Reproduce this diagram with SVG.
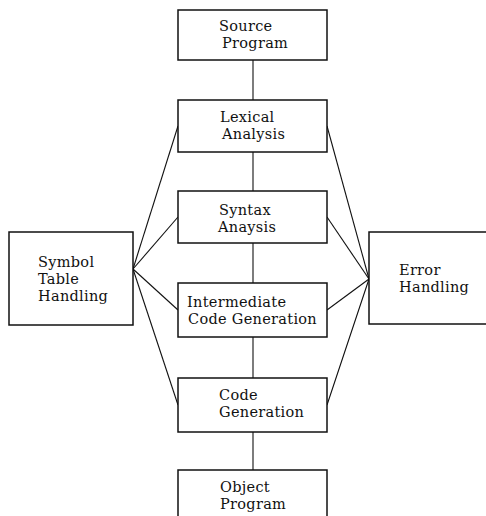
<svg xmlns="http://www.w3.org/2000/svg" width="486" height="516" viewBox="0 0 486 516">
  <style>
    .box { fill: #ffffff; stroke: #111111; stroke-width: 1.5; }
    .wire { fill: none; stroke: #111111; stroke-width: 1.1; }
    .label { font-family: "DejaVu Serif", "Liberation Serif", serif; font-size: 14.5px; letter-spacing: 0.3px; fill: #111111; }
  </style>
  <rect width="486" height="516" fill="#ffffff"/>

  <!-- connectors -->
  <g id="connectors">
    <!-- main pipeline -->
    <line class="wire" x1="253" y1="60" x2="253" y2="100"/>
    <line class="wire" x1="253" y1="152" x2="253" y2="191"/>
    <line class="wire" x1="253" y1="243" x2="253" y2="283"/>
    <line class="wire" x1="253" y1="337" x2="253" y2="378"/>
    <line class="wire" x1="253" y1="432" x2="253" y2="470"/>
    <!-- symbol table fan -->
    <line class="wire" x1="133" y1="269" x2="178" y2="126"/>
    <line class="wire" x1="133" y1="269" x2="178" y2="217"/>
    <line class="wire" x1="133" y1="269" x2="178" y2="310"/>
    <line class="wire" x1="133" y1="269" x2="178" y2="405"/>
    <!-- error handling fan -->
    <line class="wire" x1="369" y1="279" x2="327" y2="126"/>
    <line class="wire" x1="369" y1="279" x2="327" y2="217"/>
    <line class="wire" x1="369" y1="279" x2="327" y2="310"/>
    <line class="wire" x1="369" y1="279" x2="327" y2="405"/>
  </g>

  <g id="source">
    <rect class="box" x="178" y="10" width="149" height="50"/>
    <text class="label" x="219" y="31">Source</text>
    <text class="label" x="222" y="48">Program</text>
  </g>

  <g id="lexical">
    <rect class="box" x="178" y="100" width="149" height="52"/>
    <text class="label" x="220" y="122">Lexical</text>
    <text class="label" x="222" y="139">Analysis</text>
  </g>

  <g id="syntax">
    <rect class="box" x="178" y="191" width="149" height="52"/>
    <text class="label" x="219" y="215">Syntax</text>
    <text class="label" x="218" y="232">Anaysis</text>
  </g>

  <g id="intermediate">
    <rect class="box" x="178" y="283" width="149" height="54"/>
    <text class="label" x="187" y="307">Intermediate</text>
    <text class="label" x="188" y="324">Code Generation</text>
  </g>

  <g id="codegen">
    <rect class="box" x="178" y="378" width="149" height="54"/>
    <text class="label" x="219" y="400">Code</text>
    <text class="label" x="219" y="417">Generation</text>
  </g>

  <g id="object">
    <rect class="box" x="178" y="470" width="149" height="60"/>
    <text class="label" x="220" y="492">Object</text>
    <text class="label" x="220" y="509">Program</text>
  </g>

  <g id="symbol-table">
    <rect class="box" x="9" y="232" width="124" height="93"/>
    <text class="label" x="38" y="267">Symbol</text>
    <text class="label" x="38" y="284">Table</text>
    <text class="label" x="38" y="301">Handling</text>
  </g>

  <g id="error-handling">
    <rect class="box" x="369" y="232" width="125" height="92"/>
    <text class="label" x="399" y="275">Error</text>
    <text class="label" x="399" y="292">Handling</text>
  </g>
</svg>
